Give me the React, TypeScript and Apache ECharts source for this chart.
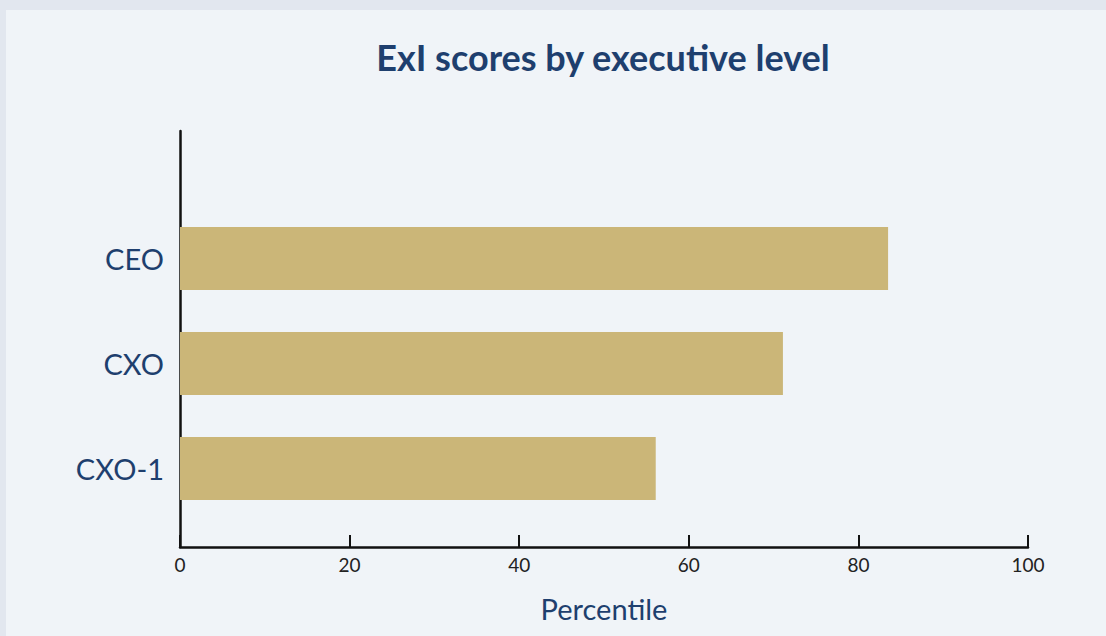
import React, { useEffect, useRef } from "react";
import * as echarts from "echarts";

const titleText = "ExI scores by executive level";
const categories = ["CEO", "CXO", "CXO-1"];
const values = [83.5, 71.1, 56.1];
const xTicks = [0, 20, 40, 60, 80, 100];
const xAxisName = "Percentile";

const NAVY = "#1e3f6e";
const BAR = "#cbb678";
const FONT = "Lato, 'Open Sans', sans-serif";

export default function App() {
  const ref = useRef<HTMLDivElement>(null);
  useEffect(() => {
    if (!ref.current) return;
    const chart = echarts.init(ref.current, undefined, { renderer: "svg" });
    chart.setOption({
      animation: false,
      backgroundColor: "#e2e7ef",
      graphic: [
        {
          type: "rect",
          z: -10,
          shape: { x: 6, y: 10, width: 1100, height: 626 },
          style: { fill: "#f0f4f8" },
          silent: true,
        },
        {
          type: "text",
          x: 603,
          y: 57,
          style: {
            text: titleText,
            fill: NAVY,
            font: `bold 36px ${FONT}`,
            textAlign: "center",
            textVerticalAlign: "middle",
          },
        },
      ],
      grid: [
        { left: 180, right: 78, top: 131, bottom: 89 },
        { left: 180, right: 78, top: 206, bottom: 115 },
      ],
      xAxis: [
        {
          gridIndex: 0,
          type: "value",
          min: xTicks[0],
          max: xTicks[xTicks.length - 1],
          interval: 20,
          axisLine: { show: true, lineStyle: { color: "#111", width: 2.5 } },
          axisTick: { show: true, inside: true, length: 12, lineStyle: { color: "#111", width: 2 } },
          splitLine: { show: false },
          axisLabel: { color: "#222", fontSize: 19, fontFamily: FONT, margin: 8 },
          name: xAxisName,
          nameLocation: "middle",
          nameGap: 47,
          nameTextStyle: { color: NAVY, fontSize: 29, fontFamily: FONT },
        },
        {
          gridIndex: 1,
          type: "value",
          min: xTicks[0],
          max: xTicks[xTicks.length - 1],
          show: false,
        },
      ],
      yAxis: [
        {
          gridIndex: 0,
          type: "category",
          data: [],
          axisLine: { show: true, onZero: false, lineStyle: { color: "#111", width: 2.5 } },
          axisTick: { show: false },
          axisLabel: { show: false },
          splitLine: { show: false },
        },
        {
          gridIndex: 1,
          type: "category",
          data: categories,
          inverse: true,
          axisLine: { show: false },
          axisTick: { show: false },
          axisLabel: { color: NAVY, fontSize: 29, fontFamily: FONT, margin: 16 },
        },
      ],
      series: [
        {
          type: "bar",
          xAxisIndex: 1,
          yAxisIndex: 1,
          data: values,
          barWidth: 63,
          itemStyle: { color: BAR },
        },
      ],
    });
    return () => chart.dispose();
  }, []);
  return <div ref={ref} style={{ position: "fixed", left: 0, top: 0, width: 1106, height: 636 }} />;
}
